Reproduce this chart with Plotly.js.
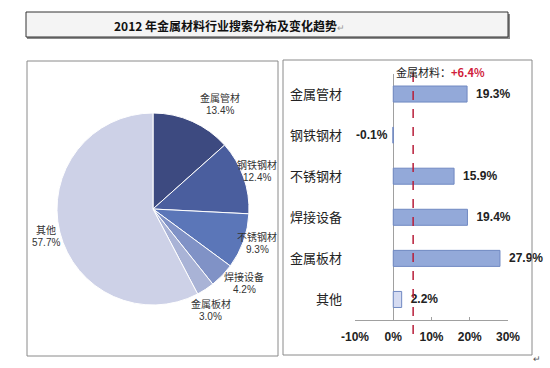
<!DOCTYPE html>
<html>
<head>
<meta charset="utf-8">
<script src="https://cdn.plot.ly/plotly-3.0.1.min.js"></script>
<style>html,body{margin:0;padding:0;background:#fff;}#chart{width:550px;height:368px;}</style>
</head>
<body>
<div id="chart"></div>
<script>
// ---- data ----
const titleText = "2012 年金属材料行业搜索分布及变化趋势";
const pieLabels = ["金属管材", "钢铁钢材", "不锈钢材", "焊接设备", "金属板材", "其他"];
const pieShares = [13.4, 12.4, 9.3, 4.2, 3.0, 57.7];
const pieColors = ["#3d4a80", "#4a5e9e", "#5b76b8", "#8092c6", "#a9b3d6", "#cdd1e7"];

const barCategories = ["金属管材", "钢铁钢材", "不锈钢材", "焊接设备", "金属板材", "其他"];
const barGrowth = [19.3, -0.1, 15.9, 19.4, 27.9, 2.2];
const barColors = ["#93a9d9", "#93a9d9", "#93a9d9", "#93a9d9", "#93a9d9", "#d5dbf1"];
const xTickVals = [-10, 0, 10, 20, 30];
const xTickText = ["-10%", "0%", "10%", "20%", "30%"];
const overallLabel = "金属材料：";
const overallGrowth = 6.4;
const refLinePos = 5.2; // where the dashed line is drawn in the picture

// ---- helpers ----
const W = 550, H = 368;
const px = x => x / W;
const py = y => 1 - y / H;
const CJK = '"Noto Sans CJK SC", "Liberation Sans", Arial, sans-serif';
const NUM = '"Liberation Sans", Arial, "Noto Sans CJK SC", sans-serif';

// pie label positions (text only): [x, y of first line]
const pieLabelPos = [[220, 97.5], [257, 164.5], [257, 236.5], [244, 276.5], [211, 303.5], [46, 229.5]];

const pieTrace = {
  type: "pie",
  labels: pieLabels,
  values: pieShares,
  sort: false,
  direction: "clockwise",
  rotation: 0,
  textinfo: "none",
  hoverinfo: "label+percent",
  marker: { colors: pieColors, line: { color: "#ffffff", width: 1 } },
  domain: { x: [px(57), px(249)], y: [py(305), py(113)] },
  showlegend: false
};

const barTrace = {
  type: "bar",
  orientation: "h",
  y: barCategories,
  x: barGrowth,
  xaxis: "x",
  yaxis: "y",
  width: 0.39,
  marker: { color: barColors, line: { color: "#7089c2", width: 1 } },
  texttemplate: barGrowth.map(v => v < 0 ? "%{x:.1f}%\u2009" : "\u2002%{x:.1f}%"),
  textposition: "outside",
  textfont: { family: NUM, size: 12, color: "#222", weight: "bold" },
  cliponaxis: false,
  showlegend: false,
  hoverinfo: "x+y"
};

const annotations = [];
annotations.push({
  xref: "paper", yref: "paper", x: px(230), y: py(25),
  text: "<b>" + titleText + "</b><span style='color:#999;font-size:9px'>↵</span>",
  showarrow: false, font: { family: CJK, size: 12, color: "#111" },
  xanchor: "center", yanchor: "middle"
});
pieLabels.forEach((lab, i) => {
  annotations.push({
    xref: "paper", yref: "paper",
    x: px(pieLabelPos[i][0]), y: py(pieLabelPos[i][1]),
    text: lab, showarrow: false,
    font: { family: CJK, size: 10, color: "#333" },
    xanchor: "center", yanchor: "middle"
  });
  annotations.push({
    xref: "paper", yref: "paper",
    x: px(pieLabelPos[i][0]), y: py(pieLabelPos[i][1] + 13),
    text: pieShares[i].toFixed(1) + "%", showarrow: false,
    font: { family: NUM, size: 10, color: "#333" },
    xanchor: "center", yanchor: "middle"
  });
});
annotations.push({
  xref: "paper", yref: "paper", x: px(440), y: py(72),
  text: overallLabel + "<b><span style='color:#d0203a'>+" + overallGrowth.toFixed(1) + "%</span></b>",
  showarrow: false, font: { family: CJK, size: 11, color: "#222" },
  xanchor: "center", yanchor: "middle"
});
annotations.push({
  xref: "paper", yref: "paper", x: px(537), y: py(359),
  text: "↵", showarrow: false, font: { family: NUM, size: 9, color: "#555" },
  xanchor: "center", yanchor: "middle"
});

const shapes = [
  // title box shadow
  { type: "rect", xref: "paper", yref: "paper", x0: px(27), x1: px(510), y0: py(39), y1: py(14),
    fillcolor: "#8a8a8a", line: { width: 0 }, layer: "below" },
  // title box
  { type: "rect", xref: "paper", yref: "paper", x0: px(26), x1: px(508), y0: py(37), y1: py(12),
    fillcolor: "#f4f4f4", line: { color: "#333", width: 1 }, layer: "below" },
  // left panel
  { type: "rect", xref: "paper", yref: "paper", x0: px(27), x1: px(278), y0: py(356), y1: py(61),
    fillcolor: "rgba(0,0,0,0)", line: { color: "#8a8a8a", width: 1 } },
  // right panel
  { type: "rect", xref: "paper", yref: "paper", x0: px(283), x1: px(532), y0: py(355), y1: py(60),
    fillcolor: "rgba(0,0,0,0)", line: { color: "#8a8a8a", width: 1 } },
  // reference dashed line
  { type: "line", xref: "x", yref: "paper", x0: refLinePos, x1: refLinePos, y0: py(334), y1: py(66),
    line: { color: "#b81e3a", width: 1.5, dash: "dash" } }
];

const layout = {
  width: W, height: H,
  margin: { l: 0, r: 0, t: 0, b: 0 },
  paper_bgcolor: "#ffffff",
  plot_bgcolor: "rgba(0,0,0,0)",
  showlegend: false,
  xaxis: {
    domain: [px(355), px(508)],
    range: [-10, 30],
    tickvals: xTickVals, ticktext: xTickText,
    showgrid: false,
    zeroline: true, zerolinecolor: "#a0a0a0", zerolinewidth: 1,
    showline: true, linecolor: "#a0a0a0", linewidth: 1,
    ticks: "inside", ticklen: 3, tickcolor: "#a0a0a0",
    ticklabelstandoff: 6,
    tickfont: { family: NUM, size: 12, color: "#222", weight: "bold" },
    anchor: "y", fixedrange: true
  },
  yaxis: {
    domain: [py(320), py(73.5)],
    type: "category",
    autorange: "reversed",
    showgrid: false, zeroline: false, showline: false,
    ticks: "", ticklabelstandoff: 12,
    tickfont: { family: CJK, size: 13, color: "#222" },
    anchor: "x", fixedrange: true
  },
  annotations: annotations,
  shapes: shapes
};

Plotly.newPlot("chart", [pieTrace, barTrace], layout, { displayModeBar: false, staticPlot: true });
</script>
</body>
</html>
